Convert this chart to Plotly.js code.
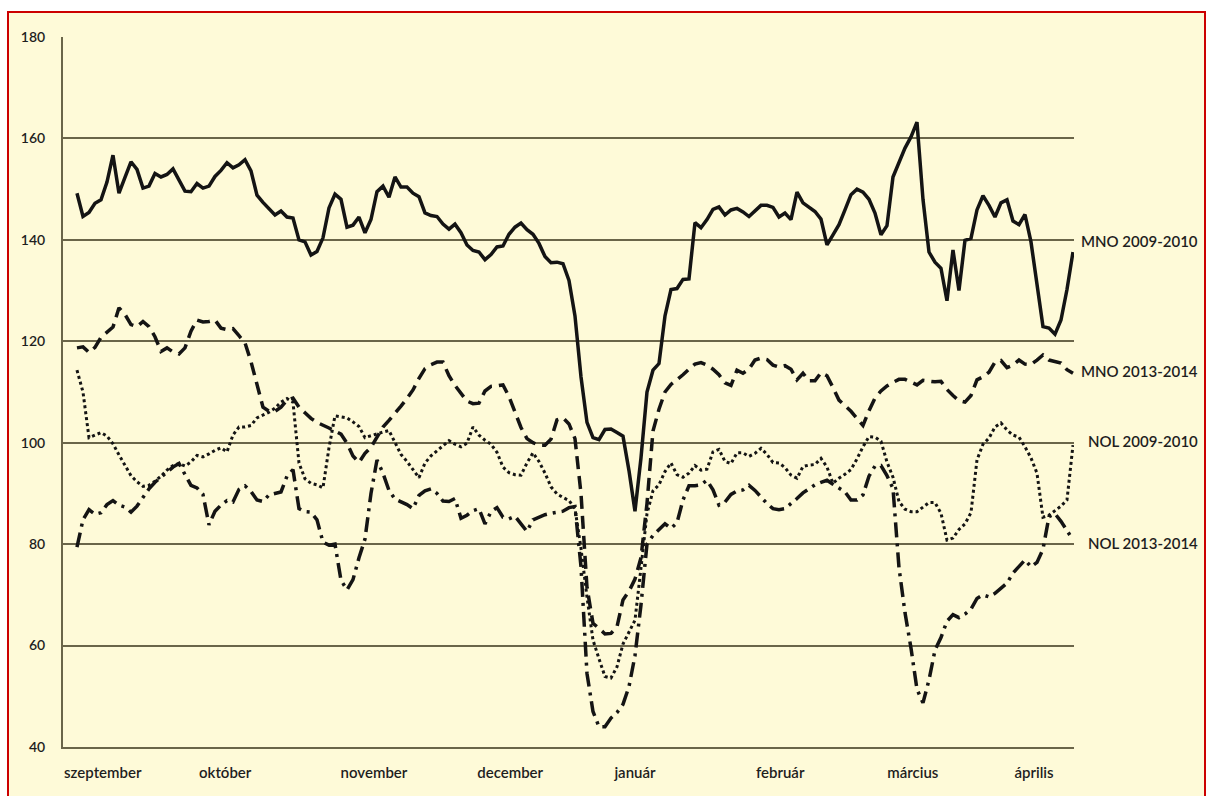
<!DOCTYPE html>
<html>
<head>
<meta charset="utf-8">
<script src="https://cdn.plot.ly/plotly-3.0.1.min.js"></script>
<style>
  html, body { margin:0; padding:0; background:#ffffff; width:1207px; height:796px; overflow:hidden; }
  #frame { position:absolute; left:7px; top:11px; width:1195px; height:800px; border:2px solid #cc0000; background:#fefad8; }
  #chart { position:absolute; left:0; top:0; width:1207px; height:796px; }
</style>
</head>
<body>
<div id="frame"></div>
<div id="chart"></div>
<script>
// time step index (roughly daily observations, Sept -> April)
const steps = Array.from({length: 167}, (_, i) => i);

const monthTicks = [4.3, 24.7, 49.5, 72.2, 93, 117.2, 139.3, 159.5];
const monthLabels = ["szeptember", "október", "november", "december", "január", "február", "március", "április"];

const seriesNames = ["MNO 2009-2010", "MNO 2013-2014", "NOL 2009-2010", "NOL 2013-2014"];

const mno0910 = [
149.2,144.6,145.4,147.2,147.9,151.4,156.7,149.2,152.3,155.4,
153.9,150.2,150.6,153.1,152.4,152.9,154.0,151.9,149.6,149.5,
151.1,150.2,150.6,152.5,153.7,155.2,154.2,154.8,155.8,153.6,
148.8,147.4,146.2,144.9,145.7,144.5,144.3,140.0,139.6,137.0,
137.7,140.4,146.3,149.0,148.0,142.5,142.9,144.5,141.4,144.0,
149.5,150.6,148.4,152.4,150.4,150.4,149.2,148.5,145.3,144.8,
144.6,143.1,142.1,143.1,141.4,139.0,137.9,137.6,136.1,137.1,
138.6,138.8,141.1,142.5,143.3,142.0,141.1,139.3,136.7,135.5,
135.6,135.3,132.0,125.0,113.0,104.0,101.0,100.6,102.6,102.7,
102.0,101.3,94.5,86.5,97.0,110.0,114.3,115.6,125.0,130.2,
130.4,132.2,132.3,143.4,142.4,144.0,146.0,146.5,144.9,145.9,
146.2,145.5,144.6,145.6,146.8,146.8,146.4,144.5,145.3,144.0,
149.4,147.3,146.4,145.6,144.1,139.0,141.0,143.0,145.9,148.9,
150.0,149.4,148.0,145.3,141.0,142.8,152.4,155.2,158.1,160.3,
163.2,148.0,137.6,135.6,134.4,128.0,138.0,130.0,139.9,140.3,
145.9,148.7,146.8,144.5,147.3,147.9,143.7,143.0,145.0,139.6,
131.2,122.9,122.6,121.4,124.2,130.2,137.6
];

const mno1314 = [
118.7,118.9,117.8,118.8,120.8,121.8,122.8,126.6,125.3,123.3,
122.9,123.9,122.9,120.9,118.0,118.7,117.9,117.5,118.7,122.0,
124.2,123.8,123.9,124.2,122.6,122.3,122.5,121.1,119.7,116.0,
111.3,107.0,106.2,106.2,107.0,108.4,108.8,107.0,105.9,104.8,
104.0,103.5,102.9,102.3,101.7,99.9,97.4,96.1,97.9,99.1,
101.0,103.1,104.4,105.7,107.2,108.7,110.4,112.7,114.6,115.4,
115.9,115.9,113.2,111.3,109.6,108.2,107.7,107.8,110.2,111.1,
111.2,111.4,109.1,105.8,103.0,100.8,100.0,99.5,99.5,100.7,
104.5,104.9,103.7,100.8,90.0,71.5,64.4,63.4,62.3,62.4,
63.7,69.0,70.7,73.1,77.3,88.0,102.3,106.6,110.0,111.5,
112.4,113.4,114.5,115.5,115.8,115.3,114.5,113.4,111.8,111.3,
114.3,113.7,114.5,116.3,116.7,116.4,115.3,114.9,115.2,114.5,
112.4,113.7,112.2,112.2,113.8,113.2,110.9,108.4,107.3,106.2,
104.8,103.4,106.3,108.8,110.2,111.2,111.9,112.5,112.5,112.0,
111.4,112.3,112.2,112.0,112.1,110.5,109.3,108.3,108.0,109.3,
112.4,113.0,113.9,115.9,116.2,114.8,115.3,116.3,115.5,115.4,
116.3,117.3,116.3,116.0,115.7,114.4,113.7
];

const nol0910 = [
114.3,110.0,101.0,101.5,102.0,101.3,99.8,97.6,95.4,93.5,
92.3,91.4,91.6,92.4,93.4,94.6,95.5,95.9,95.4,96.2,
97.5,97.2,97.8,98.5,99.0,98.2,101.5,103.1,103.1,103.4,
104.9,105.4,106.0,106.8,108.0,108.7,108.0,96.0,92.9,92.0,
91.7,91.1,99.0,105.3,105.1,104.9,104.1,103.2,101.0,101.4,
101.7,102.1,102.4,100.1,97.7,96.3,94.8,93.1,96.0,97.4,
98.4,99.5,100.4,99.7,99.2,99.9,103.1,101.5,100.5,99.7,
98.1,95.2,94.1,93.7,93.6,96.0,98.0,96.3,94.0,91.3,
89.9,89.2,88.6,87.0,79.2,69.6,61.1,57.4,53.9,53.6,
55.8,60.3,62.6,65.0,75.3,86.0,90.5,91.7,94.3,96.0,
93.7,93.2,94.0,95.5,94.6,94.8,98.2,98.7,96.3,95.9,
98.0,98.0,97.3,97.9,98.9,97.7,96.1,96.0,95.1,93.6,
93.0,95.3,95.6,95.7,96.9,95.2,92.0,93.0,93.8,94.7,
96.8,99.2,101.2,101.1,100.3,96.2,93.2,88.4,86.9,86.4,
86.4,87.3,88.2,88.2,86.1,80.8,81.2,82.9,84.0,86.2,
96.6,99.7,100.9,103.1,103.9,102.5,101.5,101.1,99.2,97.0,
94.0,85.3,85.7,86.6,87.5,88.7,99.5
];

const nol1314 = [
79.4,84.8,86.8,85.9,86.2,87.8,88.6,87.7,87.3,86.3,
87.5,89.1,90.9,92.2,93.2,94.0,95.2,95.9,93.6,91.6,
91.1,89.8,83.8,86.5,87.7,88.6,88.3,90.8,91.5,90.4,
88.7,88.4,89.7,90.0,90.3,93.4,94.7,87.0,86.4,86.3,
84.8,80.4,79.8,80.0,72.9,71.0,73.0,77.3,81.0,90.0,
96.6,94.0,90.6,88.9,88.3,87.8,87.0,89.6,90.5,90.9,
90.0,88.5,88.4,89.0,85.1,85.7,86.6,87.0,84.0,86.4,
87.2,85.3,85.0,85.5,84.0,82.5,84.8,85.3,85.8,86.1,
86.3,86.5,87.2,87.4,75.6,54.5,47.0,44.0,44.0,45.7,
46.8,48.4,51.9,58.0,68.0,80.0,81.7,82.9,84.0,83.1,
84.2,88.7,91.5,91.5,91.7,92.6,90.7,87.7,88.3,89.8,
90.5,90.7,91.6,90.6,89.2,88.0,87.0,86.8,87.0,87.9,
89.0,90.1,90.9,91.7,92.2,92.6,91.8,91.0,90.3,88.7,
88.7,89.7,93.4,95.4,95.5,93.5,91.0,75.4,66.5,59.5,
51.4,48.7,53.2,59.1,61.6,64.8,66.1,65.5,66.2,67.2,
69.3,70.0,69.6,70.3,71.3,72.3,74.3,75.6,76.9,75.5,
76.4,79.0,85.4,86.0,84.5,82.7,80.8
];

const lineColor = "#141414";
const gridColor = "#6a6549";
const textColor = "#1e1e1e";
const font = "Lato, 'Open Sans', 'DejaVu Sans', sans-serif";

const traces = [
  {x: steps, y: mno0910, name: seriesNames[0], mode: "lines", line: {color: lineColor, width: 3.5}},
  {x: steps, y: mno1314, name: seriesNames[1], mode: "lines", line: {color: lineColor, width: 3.5, dash: "13px,7px"}},
  {x: steps, y: nol0910, name: seriesNames[2], mode: "lines", line: {color: lineColor, width: 3, dash: "3px,3px"}},
  {x: steps, y: nol1314, name: seriesNames[3], mode: "lines", line: {color: lineColor, width: 3.5, dash: "15px,6px,3px,6px"}}
];

const labelY = [139.7, 114.1, 100.3, 80.2];
const annotations = seriesNames.map((n, k) => ({
  xref: "paper", yref: "y", x: 1.1246, y: labelY[k], xanchor: "right", yanchor: "middle",
  text: n, showarrow: false, font: {family: font, size: 15, color: textColor, weight: 600}
}));

const layout = {
  width: 1207, height: 796,
  margin: {l: 63, r: 133, t: 37, b: 49, pad: 0},
  paper_bgcolor: "rgba(0,0,0,0)", plot_bgcolor: "rgba(0,0,0,0)",
  showlegend: false,
  font: {family: font, color: textColor},
  xaxis: {
    range: [-2.33, 166.17], tickmode: "array", tickvals: monthTicks, ticktext: monthLabels,
    showgrid: false, zeroline: false, showline: true, linecolor: gridColor, linewidth: 2,
    ticks: "", ticklabelstandoff: 11, tickfont: {family: font, size: 15, color: textColor, weight: 600}
  },
  yaxis: {
    range: [40, 180], tick0: 40, dtick: 20, showgrid: true, gridcolor: gridColor, gridwidth: 2,
    zeroline: false, showline: true, linecolor: gridColor, linewidth: 2,
    ticks: "", ticklabelstandoff: 13, tickfont: {family: font, size: 14, color: textColor, weight: 600}
  },
  annotations: annotations
};

Plotly.newPlot("chart", traces, layout, {staticPlot: true, displayModeBar: false});
</script>
</body>
</html>
